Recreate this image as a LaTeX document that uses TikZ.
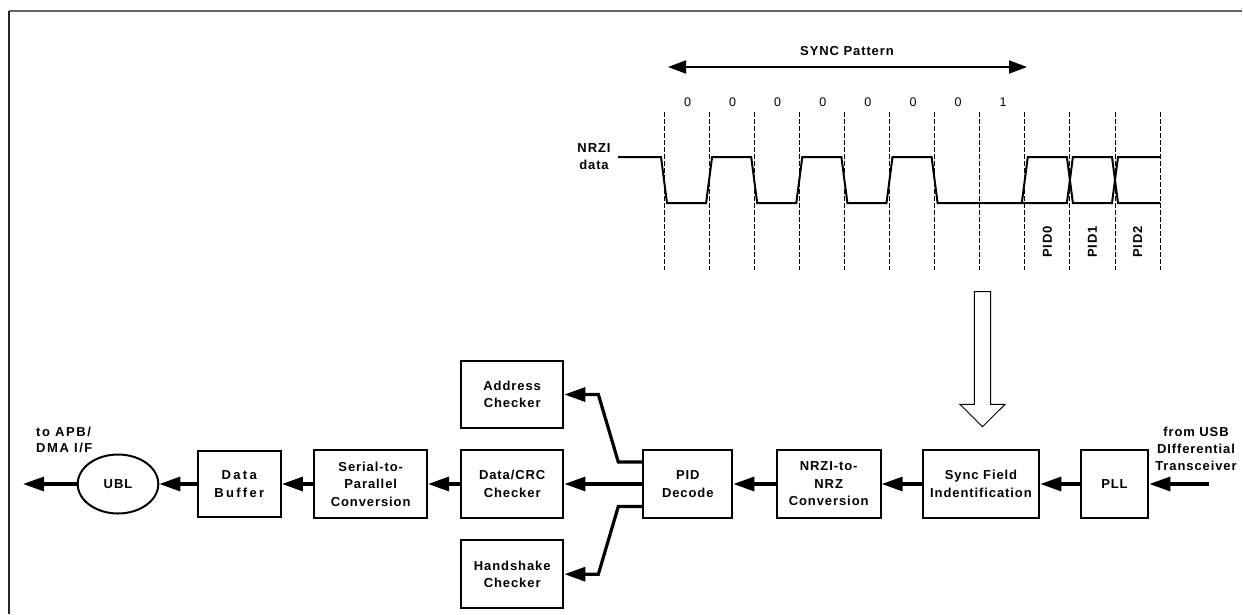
\documentclass[tikz,border=0pt]{standalone}
\usepackage{fontspec}
\setmainfont{Liberation Sans}[LetterSpace=7]
\newfontfamily\widefont{Liberation Sans}[LetterSpace=18]
\newfontfamily\midfont{Liberation Sans}[LetterSpace=12]
\usetikzlibrary{arrows.meta,shapes.geometric,calc}
\begin{document}
\begin{tikzpicture}[x=1pt,y=-1pt,
 blk/.style={draw, line width=2pt, font=\bfseries\fontsize{13}{17.5}\selectfont, align=center, inner sep=0pt},
 conn/.style={line width=3.2pt, -{Triangle[length=21pt,width=14pt]}},
 lbl/.style={font=\bfseries\fontsize{13}{17}\selectfont, align=center, inner sep=0pt},
 bit/.style={font=\fontsize{12.5}{14}\selectfont, inner sep=0pt},
 tickline/.style={line width=0.9pt, dash pattern=on 4.5pt off 2.5pt},
 sig/.style={line width=2pt, line join=miter}
]
\useasboundingbox (0,0) rectangle (1243,614);
% frame
\draw[line width=1.5pt, black!60] (9,11) -- (1242,11);
\draw[line width=1.5pt, black!85] (9,11) -- (9,614);

% ---- timing diagram ----
\foreach \x in {664,709.1,754.2,799.3,844.4,889.5,934.6,979.7,1024.8,1069.9,1115,1160.1}
  \draw[tickline] (\x,112) -- (\x,270);

\draw[sig] (618,157) -- (661,157) -- (667,203) -- (706.1,203) -- (712.1,157)
  -- (751.2,157) -- (757.2,203) -- (796.3,203) -- (802.3,157)
  -- (841.4,157) -- (847.4,203) -- (886.5,203) -- (892.5,157)
  -- (931.6,157) -- (937.6,203) -- (1021.8,203) -- (1027.8,157)
  -- (1066.9,157) -- (1072.9,203) -- (1112,203) -- (1118,157) -- (1160,157);
\draw[sig] (1021.8,203) -- (1066.9,203) -- (1072.9,157) -- (1112,157) -- (1118,203) -- (1160,203);

\node[lbl] (nrzi) at (594,157) {NRZI\\data};

\foreach \x/\b [count=\i] in {687.5/0,732.6/0,777.7/0,822.8/0,867.9/0,913/0,958.1/0,1003.2/1}
  \node[bit] (bit\i) at (\x,102) {\b};

\foreach \x/\t in {1047.3/PID0,1092.4/PID1,1137.5/PID2}
  \node[lbl, rotate=90] (\t) at (\x,242) {\t};

\coordinate (sl) at (668,67);
\coordinate (sr) at (1027,67);
\draw[line width=1.8pt, {Triangle[length=18pt,width=13pt]}-{Triangle[length=18pt,width=13pt]}] (sl) -- (sr);
\node[lbl] (sync) at (847,51) {SYNC Pattern};

% hollow arrow
\draw[line width=1pt, line join=miter] (974.3,291.7) -- (990.7,291.7) -- (990.7,404.3) -- (1005,404.3)
  -- (982.5,426.7) -- (960,404.3) -- (974.3,404.3) -- cycle;

% ---- block diagram ----
\node[blk, ellipse, minimum width=80.6pt, minimum height=59pt] (ubl) at (118,484) {UBL};
\node[blk, minimum width=83.3pt, minimum height=66.7pt, font=\widefont\bfseries\fontsize{13}{17.5}\selectfont] (buf) at (239.3,484) {Data\\Buffer};
\node[blk, minimum width=112.7pt, minimum height=68pt] (s2p) at (370.7,484) {Serial-to-\\Parallel\\Conversion};
\node[blk, minimum width=102.3pt, minimum height=67.6pt] (addr) at (512.2,394.5) {Address\\Checker};
\node[blk, minimum width=102.3pt, minimum height=67.6pt] (crc) at (512.2,484) {Data/CRC\\Checker};
\node[blk, minimum width=102.3pt, minimum height=68.3pt] (hand) at (512.2,574.2) {Handshake\\Checker};
\node[blk, minimum width=89pt, minimum height=67.7pt] (pid) at (687.8,484) {PID\\Decode};
\node[blk, minimum width=104pt, minimum height=68.3pt] (n2n) at (828.7,484) {NRZI-to-\\NRZ\\Conversion};
\node[blk, minimum width=116.6pt, minimum height=67.6pt] (sfi) at (981,484) {Sync Field\\Indentification};
\node[blk, minimum width=67.6pt, minimum height=68pt] (pll) at (1114.5,484) {PLL};

\node[lbl, anchor=west, align=left, font=\midfont\bfseries\fontsize{13}{16}\selectfont] (apb) at (36,439.5) {to APB/\\DMA I/F};
\node[lbl] (usb) at (1196,449) {from USB\\DIfferential\\Transceiver};

\coordinate (in) at (1209,484);
\coordinate (out) at (23,484);

\draw[conn] (in) -- (pll.east);
\draw[conn] (pll.west) -- (sfi.east);
\draw[conn] (sfi.west) -- (n2n.east);
\draw[conn] (n2n.west) -- (pid.east);
\draw[conn] (pid.west) -- (crc.east);
\draw[conn] ([yshift=22pt]pid.west) -- ++(-24,0) -- ([xshift=34pt]addr.east) -- (addr.east);
\draw[conn] ([yshift=-22.5pt]pid.west) -- ++(-24,0) -- ([xshift=34pt]hand.east) -- (hand.east);
\draw[conn] (crc.west) -- (s2p.east);
\draw[conn] (s2p.west) -- (buf.east);
\draw[conn] (buf.west) -- (ubl.east);
\draw[conn] (ubl.west) -- (out);
\end{tikzpicture}
\end{document}
